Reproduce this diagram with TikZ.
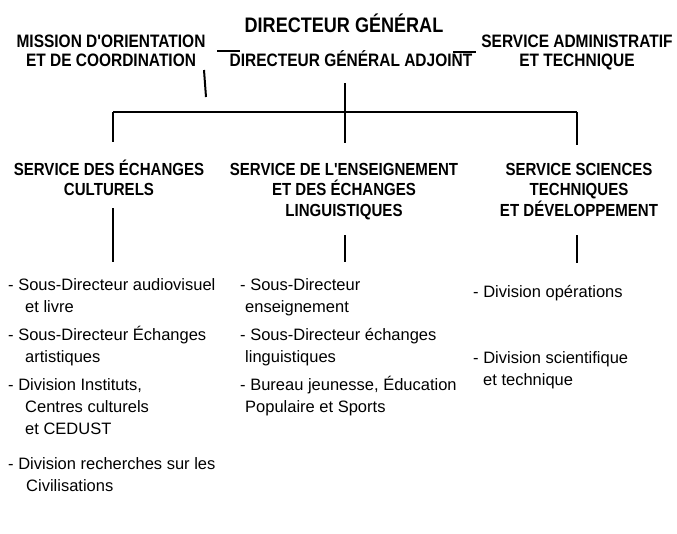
\documentclass[tikz,border=0pt]{standalone}
\usepackage{fontspec}
\setmainfont{Liberation Sans}
\newfontfamily\headfont{Liberation Sans}[FakeStretch=0.86]
\usetikzlibrary{positioning}

\tikzset{
  title/.style={font=\headfont\bfseries\fontsize{21}{24}\selectfont, inner sep=0pt, anchor=base},
  head/.style={font=\headfont\bfseries\fontsize{18}{19}\selectfont, align=center, inner sep=0pt, anchor=base},
  servhead/.style={head, font=\headfont\bfseries\fontsize{17.5}{20.5}\selectfont},
  item/.style={font=\fontsize{16.5}{22}\selectfont, align=left, inner sep=0pt, anchor=base west},
  link/.style={line width=2pt},
}

\begin{document}
\begin{tikzpicture}[x=1pt,y=-1pt]
    \useasboundingbox (0,0) rectangle (677,533);

    % top of the chart (base = last line)
    \node[title] (dg) at (344,32) {DIRECTEUR GÉNÉRAL};
    \node[head] (mission) at (111,66) {MISSION D'ORIENTATION\\ET DE COORDINATION};
    \node[head] (dga) at (351,66) {DIRECTEUR GÉNÉRAL ADJOINT};
    \node[head] (admin) at (577,66) {SERVICE ADMINISTRATIF\\ET TECHNIQUE};

    \coordinate (mdash) at (217,51);
    \coordinate (adash) at (453,52);
    \coordinate (mtail) at (204,70);
    \coordinate (mfoot) at (206,97);
    \coordinate (trunk) at (345,83);
    \coordinate (jl) at (113,112);
    \coordinate (jr) at (577,112);

    % services
    \node[servhead] (sec) at (109,195.5) {SERVICE DES ÉCHANGES\\CULTURELS};
    \node[servhead] (sel) at (344,216) {SERVICE DE L'ENSEIGNEMENT\\ET DES ÉCHANGES\\LINGUISTIQUES};
    \node[servhead] (sst) at (579,216) {SERVICE SCIENCES\\TECHNIQUES\\ET DÉVELOPPEMENT};

    \coordinate (sec in) at (113,142);
    \coordinate (sel in) at (345,143);
    \coordinate (sst in) at (577,145);
    \coordinate (sec out) at (113,208);
    \coordinate (sel out) at (345,235);
    \coordinate (sst out) at (577,235);
    \coordinate (sec end) at (113,262);
    \coordinate (sel end) at (345,262);
    \coordinate (sst end) at (577,263);

    % divisions
    \node[item] (c1) at (8,312) {- Sous-Directeur audiovisuel\\\hspace*{17pt}et livre};
    \node[item] (c2) at (8,362) {- Sous-Directeur Échanges\\\hspace*{17pt}artistiques};
    \node[item] (c3) at (8,434) {- Division Instituts,\\\hspace*{17pt}Centres culturels\\\hspace*{17pt}et CEDUST};
    \node[item] (c4) at (8,491) {- Division recherches sur les\\\hspace*{18pt}Civilisations};

    \node[item] (e1) at (240,312) {- Sous-Directeur\\\hspace*{5pt}enseignement};
    \node[item] (e2) at (240,362) {- Sous-Directeur échanges\\\hspace*{5pt}linguistiques};
    \node[item] (e3) at (240,412) {- Bureau jeunesse, Éducation\\\hspace*{5pt}Populaire et Sports};

    \node[item] (t1) at (473,297) {- Division opérations};
    \node[item] (t2) at (473,385) {- Division scientifique\\\hspace*{10pt}et technique};

    % links
    \draw[link] (mdash) -- ++(23,0);
    \draw[link] (adash) -- ++(23,0);
    \draw[link] (mtail) -- (mfoot);
    \draw[link] (trunk) -- (sel in);
    \draw[link] (jl) -- (jr);
    \draw[link] (jl) -- (sec in);
    \draw[link] (jr) -- (sst in);
    \draw[link] (sec out) -- (sec end);
    \draw[link] (sel out) -- (sel end);
    \draw[link] (sst out) -- (sst end);
\end{tikzpicture}
\end{document}
